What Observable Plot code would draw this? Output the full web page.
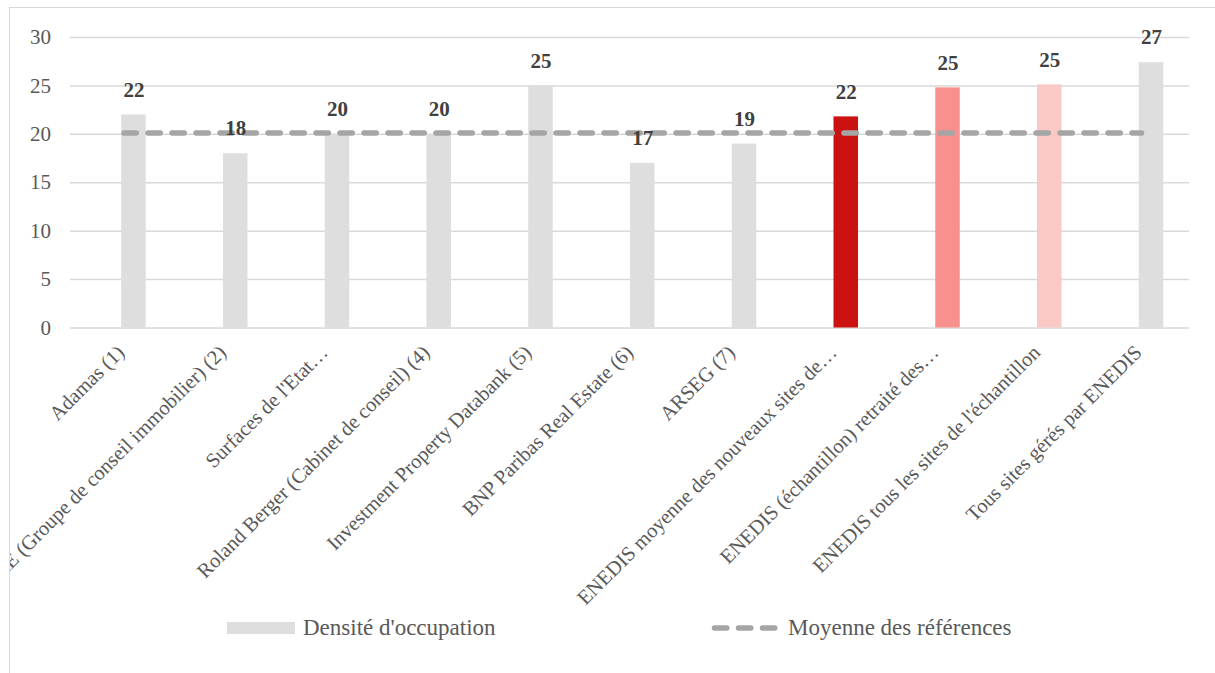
<!DOCTYPE html>
<html>
<head>
<meta charset="utf-8">
<script src="https://cdn.jsdelivr.net/npm/d3@7"></script>
<script src="https://cdn.jsdelivr.net/npm/@observablehq/plot@0.6"></script>
<style>
  html, body { margin: 0; padding: 0; background: #fff; }
  #wrap { position: relative; width: 1215px; height: 673px; overflow: hidden; font-family: "Liberation Serif", serif; }
  #plot svg { display: block; }
  #mask { position: absolute; left: 0; top: 0; width: 10px; height: 673px; background: #fff; z-index: 2; }
  #frame { position: absolute; left: 9px; top: 7px; right: -2px; bottom: -2px; border-left: 1.5px solid #d9d9d9; border-top: 1.5px solid #d9d9d9; z-index: 3; pointer-events: none; }
  #legend { position: relative; height: 61px; color: #595959; font-size: 23px; }
  #legend .sw { position: absolute; }
  #legend .lb { position: absolute; line-height: 1; white-space: nowrap; }
</style>
</head>
<body>
<div id="wrap">
  <div id="plot"></div>
  <div id="legend">
    <div class="sw" style="left:227px; top:10px; width:68px; height:12px; background:#dedede;"></div>
    <div class="lb" style="left:303px; top:4px;">Densité d'occupation</div>
    <svg class="sw" style="left:708px; top:10px;" width="76" height="12">
      <line x1="6.5" y1="6" x2="70" y2="6" stroke="#a5a5a5" stroke-width="5.5" stroke-linecap="round" stroke-dasharray="12.3 11.7"></line>
    </svg>
    <div class="lb" style="left:788px; top:4px;">Moyenne des références</div>
  </div>
  <div id="mask"></div>
  <div id="frame"></div>
</div>
<script>
// ---- data ----
const categories = [
  "Adamas (1)",
  "CBRE (Groupe de conseil immobilier) (2)",
  "Surfaces de l'Etat…",
  "Roland Berger (Cabinet de conseil) (4)",
  "Investment Property Databank (5)",
  "BNP Paribas Real Estate (6)",
  "ARSEG (7)",
  "ENEDIS moyenne des nouveaux sites de…",
  "ENEDIS (échantillon) retraité des…",
  "ENEDIS tous les sites de l'échantillon",
  "Tous sites gérés par ENEDIS"
];
const densite = [22, 18, 20, 20, 25, 17, 19, 21.8, 24.8, 25.1, 27.4];
const valueLabels = ["22", "18", "20", "20", "25", "17", "19", "22", "25", "25", "27"];
const barColors = ["#dedede", "#dedede", "#dedede", "#dedede", "#dedede", "#dedede", "#dedede", "#cc1111", "#f8918d", "#fac8c5", "#dedede"];
const moyenneReferences = 20.14;
const yTicks = [0, 5, 10, 15, 20, 25, 30];

const rows = categories.map((c, i) => ({cat: c, value: densite[i], label: valueLabels[i], color: barColors[i]}));

const chart = Plot.plot({
  width: 1215,
  height: 612,
  marginTop: 37,
  marginBottom: 612 - 327.5,
  marginLeft: 82.6,
  marginRight: 13.1,
  style: {fontFamily: "Liberation Serif, serif", background: "transparent"},
  x: {domain: categories, paddingInner: 0.759, paddingOuter: 0.3795, round: false, axis: null},
  y: {domain: [0, 30], axis: null},
  color: {type: "identity"},
  marks: [
    Plot.ruleY(yTicks, {stroke: "#d9d9d9", strokeWidth: 1.5, insetLeft: -12.6, insetRight: 12.9}),
    Plot.axisY({ticks: yTicks, tickSize: 0, tickPadding: 32, fontSize: 21, fill: "#595959", label: null}),
    Plot.barY(rows, {x: "cat", y: "value", fill: "color"}),
    Plot.lineY(categories.map(c => ({cat: c, v: moyenneReferences})), {x: "cat", y: "v", stroke: "#a5a5a5", strokeWidth: 5.5, strokeLinecap: "round", strokeDasharray: "12.3 11.7", dx: -10}),
    Plot.text(rows, {x: "cat", y: "value", text: "label", dy: -25, fontSize: 21, fontWeight: "bold", fill: "#404040"}),
    Plot.text(categories, {x: d => d, y: () => 0, text: d => d, rotate: -45, textAnchor: "end", dx: -13, dy: 21, fontSize: 20.5, fill: "#595959"})
  ]
});
document.getElementById("plot").appendChild(chart);
</script>
</body>
</html>
